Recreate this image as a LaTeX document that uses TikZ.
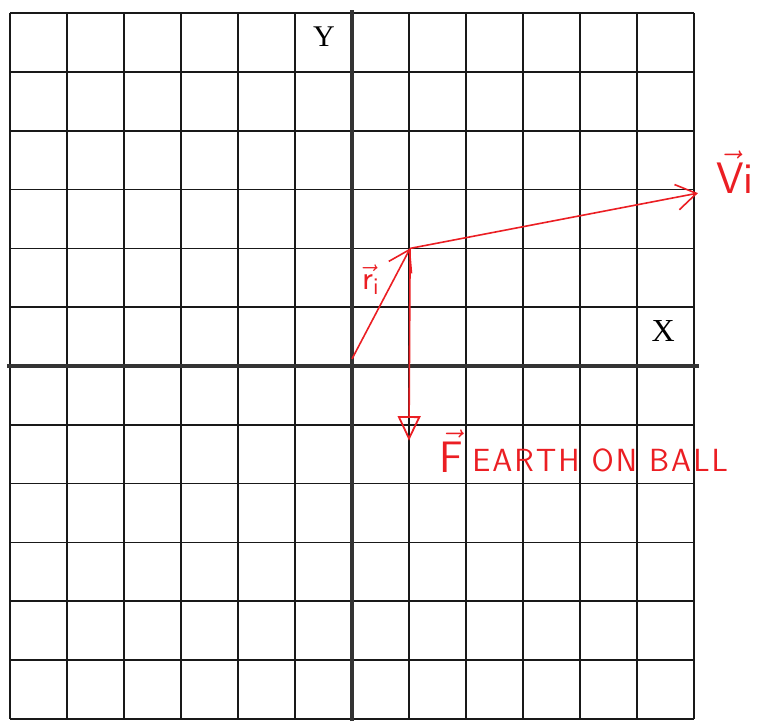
\documentclass[tikz,border=0pt]{standalone}
\usepackage{fontspec}
\usepackage{amsmath}
\usepackage{amssymb}
\setmainfont{Liberation Serif}
\usetikzlibrary{arrows.meta}
\definecolor{pen}{RGB}{235,30,35}
\tikzset{
    gridline/.style={black!90,line width=0.75pt},
    axisline/.style={black!80,line width=2pt},
    vecline/.style={pen,line width=0.8pt},
    pentext/.style={pen,font=\sffamily,inner sep=1pt}
}
\newcommand{\lsp}{\kern1pt}

\begin{document}
\begin{tikzpicture}[x=1cm,y=1.0316cm]
    \useasboundingbox (-6.175,-6.105) rectangle (7.228,6.224);
    \foreach \i in {-6,...,6} {
        \draw [gridline] (\i,-6) -- (\i,6);
        \draw [gridline] (-6,\i) -- (6,\i);
    }
    \draw [axisline] (-6.05,0) -- (6.08,0);
    \draw [axisline] (0,-6.04) -- (0,6.05);
    \node (ylab) at (-0.49,5.6) {\fontsize{15}{15}\selectfont Y};
    \node (xlab) at (5.46,0.6) {\fontsize{16}{16}\selectfont X};
    \path coordinate (o) at (0,0.12);
    \path coordinate (r) at (1.02,2.0);
    \path coordinate (v) at (6.07,2.94);
    \path coordinate (f) at (1,-1.27);
    \draw [vecline,-{Straight Barb[length=3.5mm,width=4.5mm]}] (o)--(r);
    \draw [vecline,-{Straight Barb[length=3.5mm,width=4.5mm]}] (r)--(v);
    \draw [vecline,-{Triangle[open,length=4.3mm,width=4mm,line width=0.9pt]}] (r)--(f);
    \node [pentext] (vlab) at (6.72,3.3) {\fontsize{22}{22}\selectfont $\vec{\mathsf{V}}\mathsf{i}$};
    \node [pentext] (rlab) at (0.33,1.47) {\fontsize{17}{17}\selectfont $\vec{\mathsf{r}}_{\mathsf{i}}$};
    \node [pentext] (flab) at (1.75,-1.45) {\fontsize{22}{22}\selectfont $\vec{\mathsf{F}}$};
    \node [pentext,anchor=base west] (earth) at (2.07,-1.8) {\fontsize{16}{16}\selectfont E\lsp A\lsp R\lsp T\lsp H \lsp O\lsp N \lsp B\lsp A\lsp L\lsp L};
\end{tikzpicture}
\end{document}
